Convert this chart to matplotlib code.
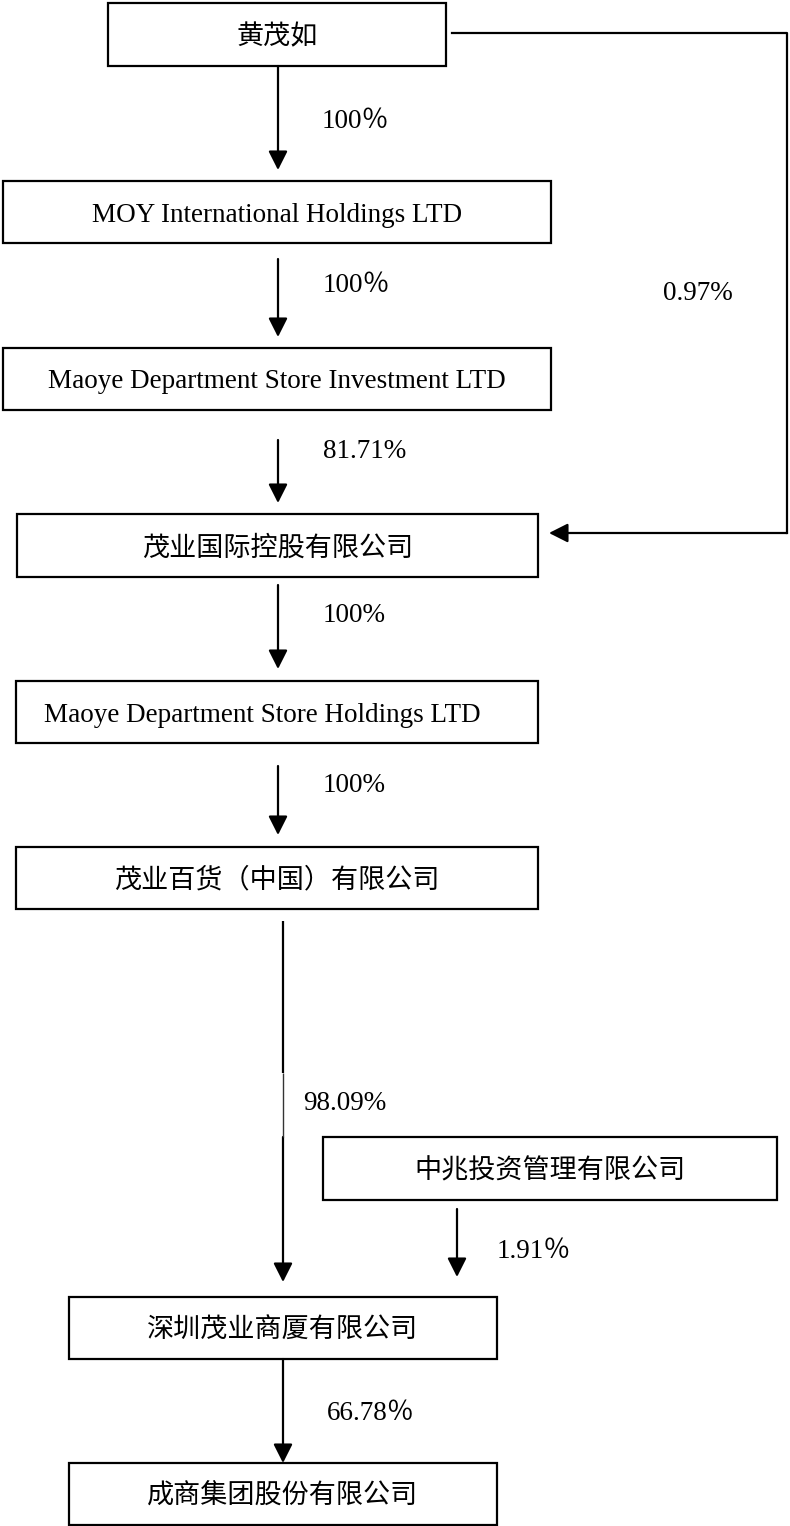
import matplotlib
matplotlib.use('Agg')
import matplotlib.pyplot as plt
from matplotlib.patches import Rectangle, FancyArrowPatch

# serif for latin text, CJK falls back to Noto
plt.rcParams['font.family'] = ['Liberation Serif', 'Noto Sans CJK SC']

# companies in the ownership chain
names = ['黄茂如',
         'MOY International Holdings LTD',
         'Maoye Department Store Investment LTD',
         '茂业国际控股有限公司',
         'Maoye Department Store Holdings LTD',
         '茂业百货（中国）有限公司',
         '中兆投资管理有限公司',
         '深圳茂业商厦有限公司',
         '成商集团股份有限公司']

# shareholding percentages, one per arrow
stakes = ['100％', '100％', '81.71%', '100%', '100%', '98.09%', '1.91％', '66.78％', '0.97%']

# box layout, pixels: x0, x1, y0, y1 (y grows downward)
boxes = [(108, 446, 3, 66),
         (3, 551, 181, 243),
         (3, 551, 348, 410),
         (17, 538, 514, 577),
         (16, 538, 681, 743),
         (16, 538, 847, 909),
         (323, 777, 1137, 1200),
         (69, 497, 1297, 1359),
         (69, 497, 1463, 1525)]
text_x = [None, None, None, None, 262, None, None, None, None]

# vertical arrows: x, y start, y tip, label x, label y
arrows = [(278, 66, 170, 322, 118),
          (278, 259, 337, 323, 283),
          (278, 440, 503, 323, 448),
          (278, 585, 669, 323, 613),
          (278, 766, 835, 323, 782),
          (283, 1137, 1282, 303, 1100),
          (457, 1209, 1277, 497, 1248),
          (283, 1359, 1463, 327, 1410)]

fig = plt.figure(figsize=(7.9, 15.26), dpi=100)
ax = fig.add_axes([0, 0, 1, 1])
ax.set_xlim(0, 790)
ax.set_ylim(1526, 0)
ax.axis('off')

FS = 19.5
LW = 1.6
DY = 3  # text sits a touch lower than matplotlib's centre


def arrow(x0, y0, x1, y1):
    a = FancyArrowPatch((x0, y0), (x1, y1),
                        arrowstyle='-|>,head_length=1.15,head_width=0.58',
                        mutation_scale=10, lw=LW, color='black',
                        shrinkA=0, shrinkB=0)
    ax.add_patch(a)


for i, (x0, x1, y0, y1) in enumerate(boxes):
    ax.add_patch(Rectangle((x0, y0), x1 - x0, y1 - y0, fill=False,
                           lw=LW, edgecolor='black'))
    tx = text_x[i] if text_x[i] is not None else (x0 + x1) / 2
    ax.text(tx, (y0 + y1) / 2 + DY, names[i], ha='center', va='center',
            fontsize=FS)

for i, (x, ya, yb, lx, ly) in enumerate(arrows):
    arrow(x, ya, x, yb)
    ax.text(lx, ly + DY, stakes[i], ha='left', va='center', fontsize=FS)

# the long 98.09% line: thick part, thin part, then the arrow below it
ax.plot([283, 283], [921, 1073], color='black', lw=LW, solid_capstyle='butt')
ax.plot([283, 283], [1073, 1137], color='#333333', lw=1.0, solid_capstyle='butt')

# direct holding of 黄茂如 in 茂业国际
ax.plot([452, 787, 787], [33, 33, 533], color='black', lw=LW)
arrow(787, 533, 549, 533)
ax.text(663, 290 + DY, stakes[8], ha='left', va='center', fontsize=FS)

fig.savefig('out.png', dpi=100, facecolor='white')
